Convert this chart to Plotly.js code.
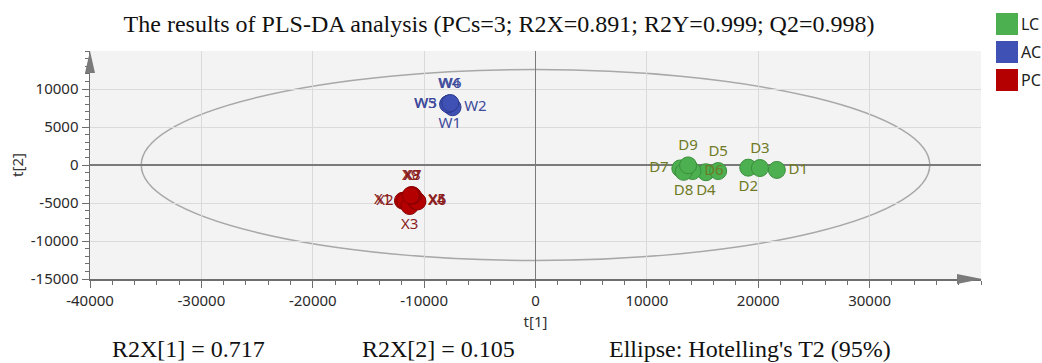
<!DOCTYPE html>
<html>
<head>
<meta charset="utf-8">
<script src="https://cdn.plot.ly/plotly-3.0.1.min.js"></script>
<style>
html,body{margin:0;padding:0;background:#fff;}
#chart{width:1042px;height:363px;}
</style>
</head>
<body>
<div id="chart"></div>
<script>
// ---- data ----
const groups = ['LC', 'AC', 'PC'];

const lcNames = ['D1','D2','D3','D4','D5','D6','D7','D8','D9'];
const lcT1 = [21670, 19100, 20150, 15300, 16400, 14100, 13000, 13300, 13700];
const lcT2 = [-650, -350, -400, -950, -800, -800, -450, -900, -50];

const acNames = ['W1','W2','W3','W4','W5','W6'];
const acT1 = [-7700, -7450, -7800, -7750, -7850, -7650];
const acT2 = [7900, 7600, 8050, 8100, 8000, 8150];

const pcNames = ['X1','X2','X3','X4','X5','X6','X7','X8','X9'];
const pcT1 = [-11900, -11700, -11300, -10700, -10650, -10600, -11000, -11100, -11200];
const pcT2 = [-4700, -4750, -5400, -4750, -4700, -4800, -4050, -3950, -4000];

// Hotelling's T2 (95%) ellipse semi-axes
const ellipseT1 = 35400;
const ellipseT2 = 12550;

// tick labels
const xTickVals = [-40000, -30000, -20000, -10000, 0, 10000, 20000, 30000];
const xTickText = ['-40000', '-30000', '-20000', '-10000', '0', '10000', '20000', '30000'];
const yTickVals = [-15000, -10000, -5000, 0, 5000, 10000];
const yTickText = ['-15000', '-10000', '-5000', '0', '5000', '10000'];

const titleText = 'The results of PLS-DA analysis (PCs=3; R2X=0.891; R2Y=0.999; Q2=0.998)';
const footTexts = ['R2X[1] = 0.717', 'R2X[2] = 0.105', "Ellipse: Hotelling's T2 (95%)"];

// ---- label placement (style) ----
const lcPos = ['middle right','bottom center','top center','bottom center','top center','middle right','middle left','bottom center','top center'];
const acPos = ['bottom center','middle right','middle left','top center','middle left','top center'];
const pcPos = ['middle left','middle left','bottom center','middle right','middle right','middle right','top center','top center','top center'];

// ---- layout geometry ----
const W = 1042, H = 363;
const M = {l: 90, r: 61, t: 51, b: 84};
const PW = W - M.l - M.r, PH = H - M.t - M.b;
const px = x => (x - M.l) / PW;          // pixel -> paper x
const py = y => (H - M.b - y) / PH;      // pixel -> paper y

const sans = '"Noto Sans", "Open Sans", sans-serif';
const serif = '"Liberation Serif", "DejaVu Serif", serif';

const groupStyle = {
  LC: {fill: '#4caf50', line: '#3b8f3b', text: '#6f7a24'},
  AC: {fill: '#3f51b5', line: '#2e3c8f', text: '#3d4a9c'},
  PC: {fill: '#b40000', line: '#8a0000', text: '#8c1d1d'}
};

function tr(name, xs, ys, labels, pos) {
  const s = groupStyle[name];
  return {
    type: 'scatter', mode: 'markers+text', name: name,
    x: xs, y: ys, text: labels, textposition: pos,
    textfont: {family: sans, size: 15, color: s.text},
    marker: {size: 17, color: s.fill, line: {color: s.line, width: 1}},
    cliponaxis: false, hoverinfo: 'text'
  };
}

const data = [
  tr('LC', lcT1, lcT2, lcNames, lcPos),
  tr('PC', pcT1, pcT2, pcNames, pcPos),
  tr('AC', acT1, acT2, acNames, acPos)
];

const axisCommon = {
  showline: true, linecolor: '#6e6e6e', linewidth: 1.5,
  ticks: 'outside', ticklen: 7, tickcolor: '#6e6e6e', tickwidth: 1,
  showgrid: true, gridcolor: '#dadada', gridwidth: 1,
  zeroline: true, zerolinecolor: '#7a7a7a', zerolinewidth: 1.5,
  tickfont: {family: sans, size: 15, color: '#2a2a2a'},
  tickmode: 'array',
  fixedrange: true
};

const shapes = [
  {type: 'circle', xref: 'x', yref: 'y', x0: -ellipseT1, x1: ellipseT1, y0: -ellipseT2, y1: ellipseT2,
   line: {color: '#a8a8a8', width: 1.5}, layer: 'below'},
  // axis arrows
  {type: 'path', xref: 'paper', yref: 'paper',
   path: `M ${px(957)} ${py(274)} L ${px(982)} ${py(279)} L ${px(957)} ${py(284)} Z`,
   fillcolor: '#7a7a7a', line: {width: 0}},
  {type: 'path', xref: 'paper', yref: 'paper',
   path: `M ${px(85)} ${py(73)} L ${px(90)} ${py(51)} L ${px(95)} ${py(73)} Z`,
   fillcolor: '#7a7a7a', line: {width: 0}}
];

const annotations = [];
groups.forEach((g, i) => {
  const top = 13 + i * 28;
  shapes.push({type: 'rect', xref: 'paper', yref: 'paper',
    x0: px(996), x1: px(1018), y0: py(top), y1: py(top + 22),
    fillcolor: groupStyle[g].fill, line: {width: 0}});
  annotations.push({xref: 'paper', yref: 'paper', x: px(1019), y: py(top + 11),
    xanchor: 'left', yanchor: 'middle', text: g, showarrow: false,
    font: {family: sans, size: 16, color: '#222'}});
});

const footX = [110, 360, 607];
footTexts.forEach((t, i) => {
  annotations.push({xref: 'paper', yref: 'paper', x: px(footX[i]), y: py(349),
    xanchor: 'left', yanchor: 'middle', text: t, showarrow: false,
    font: {family: serif, size: 24, color: '#111'}});
});

const layout = {
  width: W, height: H,
  margin: M,
  paper_bgcolor: '#ffffff', plot_bgcolor: '#f3f3f3',
  showlegend: false,
  title: {text: titleText, xref: 'paper', x: px(499), xanchor: 'center',
          yref: 'container', y: 1 - 24 / H, yanchor: 'middle',
          font: {family: serif, size: 24, color: '#111'}},
  xaxis: Object.assign({}, axisCommon, {
    range: [-40000, 40000], tickvals: xTickVals, ticktext: xTickText,
    minor: {dtick: 2000, tick0: 0, ticklen: 4, tickcolor: '#6e6e6e', showgrid: false, ticks: 'outside'},
    title: {text: 't[1]', font: {family: sans, size: 15, color: '#333'}, standoff: 8}
  }),
  yaxis: Object.assign({}, axisCommon, {
    range: [-15000, 15000], tickvals: yTickVals, ticktext: yTickText,
    minor: {dtick: 1000, tick0: 0, ticklen: 4, tickcolor: '#6e6e6e', showgrid: false, ticks: 'outside'},
    title: {text: 't[2]', font: {family: sans, size: 15, color: '#333'}, standoff: 3}
  }),
  shapes: shapes,
  annotations: annotations
};

Plotly.newPlot('chart', data, layout, {displayModeBar: false, staticPlot: true});
</script>
</body>
</html>
